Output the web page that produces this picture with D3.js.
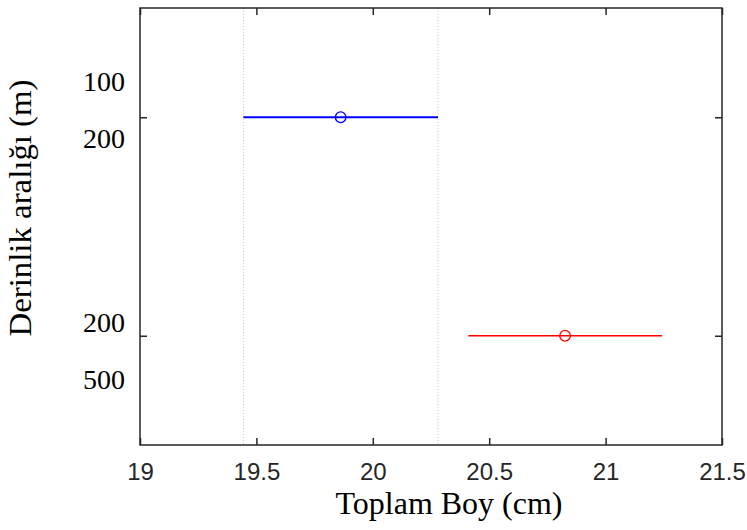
<!DOCTYPE html>
<html>
<head>
<meta charset="utf-8">
<script src="https://cdn.jsdelivr.net/npm/d3@7"></script>
<style>
  html, body { margin: 0; padding: 0; background: #fff; }
  svg { display: block; }
</style>
</head>
<body>
<svg id="chart" width="747" height="530"></svg>
<script>
// Depth ranges compared on total length (multiple comparison of means)
const groupLabelLines = [["100", "200"], ["200", "500"]];
const groupIndex = [1, 2];
const means = [19.862, 20.826];
const lowerCI = [19.444, 20.410];
const upperCI = [20.280, 21.242];
const groupColors = ["#0000ff", "#ff0000"];
const xTicks = [19, 19.5, 20, 20.5, 21, 21.5];
const xDomain = [19, 21.5];
const yDomain = [0.5, 2.5];
const xTitle = "Toplam Boy (cm)";
const yTitle = "Derinlik aralığı (m)";

const svg = d3.select("#chart");
const box = { left: 140, top: 8, right: 722, bottom: 445 };
const axisColor = "#262626";
const tickLen = 7;
const serif = "'Liberation Serif', 'Times New Roman', serif";

const x = d3.scaleLinear().domain(xDomain).range([box.left, box.right]);
const y = d3.scaleLinear().domain(yDomain).range([box.top, box.bottom]);

// plot background
svg.append("rect")
  .attr("x", box.left).attr("y", box.top)
  .attr("width", box.right - box.left).attr("height", box.bottom - box.top)
  .attr("fill", "#fff");

// dotted guides at the limits of the first group's interval
svg.append("g").selectAll("line")
  .data([lowerCI[0], upperCI[0]])
  .join("line")
  .attr("x1", d => x(d)).attr("x2", d => x(d))
  .attr("y1", box.top).attr("y2", box.bottom)
  .attr("stroke", "#c8c8c8").attr("stroke-width", 1)
  .attr("stroke-dasharray", "1,2");

// bottom axis with inward ticks
const xAxis = d3.axisBottom(x).tickValues(xTicks).tickFormat(d3.format("~g"))
  .tickSizeInner(-tickLen).tickSizeOuter(0).tickPadding(20);
const gx = svg.append("g").attr("transform", `translate(0,${box.bottom})`).call(xAxis);
gx.select(".domain").remove();
gx.selectAll(".tick line").attr("stroke", axisColor).attr("stroke-width", 1.5);
gx.selectAll(".tick text")
  .attr("font-family", "'Liberation Sans', Arial, sans-serif")
  .attr("font-size", 24).attr("fill", axisColor)
  .attr("dy", null).attr("y", 35);

// top axis ticks (no labels)
const xTop = d3.axisTop(x).tickValues(xTicks).tickFormat("")
  .tickSizeInner(-tickLen).tickSizeOuter(0);
const gxt = svg.append("g").attr("transform", `translate(0,${box.top})`).call(xTop);
gxt.select(".domain").remove();
gxt.selectAll(".tick line").attr("stroke", axisColor).attr("stroke-width", 1.5);

// left and right group ticks
const yLeft = d3.axisLeft(y).tickValues(groupIndex).tickFormat("")
  .tickSizeInner(-tickLen).tickSizeOuter(0);
const gyl = svg.append("g").attr("transform", `translate(${box.left},0)`).call(yLeft);
gyl.select(".domain").remove();
gyl.selectAll(".tick line").attr("stroke", axisColor).attr("stroke-width", 1.5);

const yRight = d3.axisRight(y).tickValues(groupIndex).tickFormat("")
  .tickSizeInner(-tickLen).tickSizeOuter(0);
const gyr = svg.append("g").attr("transform", `translate(${box.right},0)`).call(yRight);
gyr.select(".domain").remove();
gyr.selectAll(".tick line").attr("stroke", axisColor).attr("stroke-width", 1.5);

// two-line group labels beside the left ticks
const firstLineShift = [-26.3, -3.3];
const lineStep = 56.6;
const labels = svg.append("g")
  .attr("font-family", serif)
  .attr("font-size", 28).attr("fill", "#000").attr("text-anchor", "end");
groupIndex.forEach((g, i) => {
  const t = labels.append("text").attr("x", box.left - 15).attr("y", y(g) + firstLineShift[i]);
  groupLabelLines[i].forEach((line, k) => {
    t.append("tspan").attr("x", box.left - 15).attr("dy", k === 0 ? 0 : lineStep).text(line);
  });
});

// confidence intervals and means
const marks = svg.append("g");
marks.selectAll("line.ci")
  .data(groupIndex)
  .join("line")
  .attr("class", "ci")
  .attr("x1", (g, i) => x(lowerCI[i])).attr("x2", (g, i) => x(upperCI[i]))
  .attr("y1", g => y(g)).attr("y2", g => y(g))
  .attr("stroke", (g, i) => groupColors[i])
  .attr("stroke-width", (g, i) => i === 0 ? 2 : 1.5);
marks.selectAll("circle.mean")
  .data(groupIndex)
  .join("circle")
  .attr("class", "mean")
  .attr("cx", (g, i) => x(means[i])).attr("cy", g => y(g))
  .attr("r", 5.3)
  .attr("fill", "none")
  .attr("stroke", (g, i) => groupColors[i])
  .attr("stroke-width", 1.3);

// axes box
svg.append("rect")
  .attr("x", box.left).attr("y", box.top)
  .attr("width", box.right - box.left).attr("height", box.bottom - box.top)
  .attr("fill", "none").attr("stroke", axisColor).attr("stroke-width", 1.5);

// axis titles
svg.append("text")
  .attr("x", 449).attr("y", 514)
  .attr("text-anchor", "middle")
  .attr("font-family", serif)
  .attr("font-size", 31).attr("fill", "#000")
  .attr("textLength", 227).attr("lengthAdjust", "spacingAndGlyphs")
  .text(xTitle);

svg.append("text")
  .attr("transform", "translate(31,208) rotate(-90)")
  .attr("text-anchor", "middle")
  .attr("font-family", serif)
  .attr("font-size", 32).attr("fill", "#000")
  .attr("textLength", 257).attr("lengthAdjust", "spacingAndGlyphs")
  .text(yTitle);
</script>
</body>
</html>
